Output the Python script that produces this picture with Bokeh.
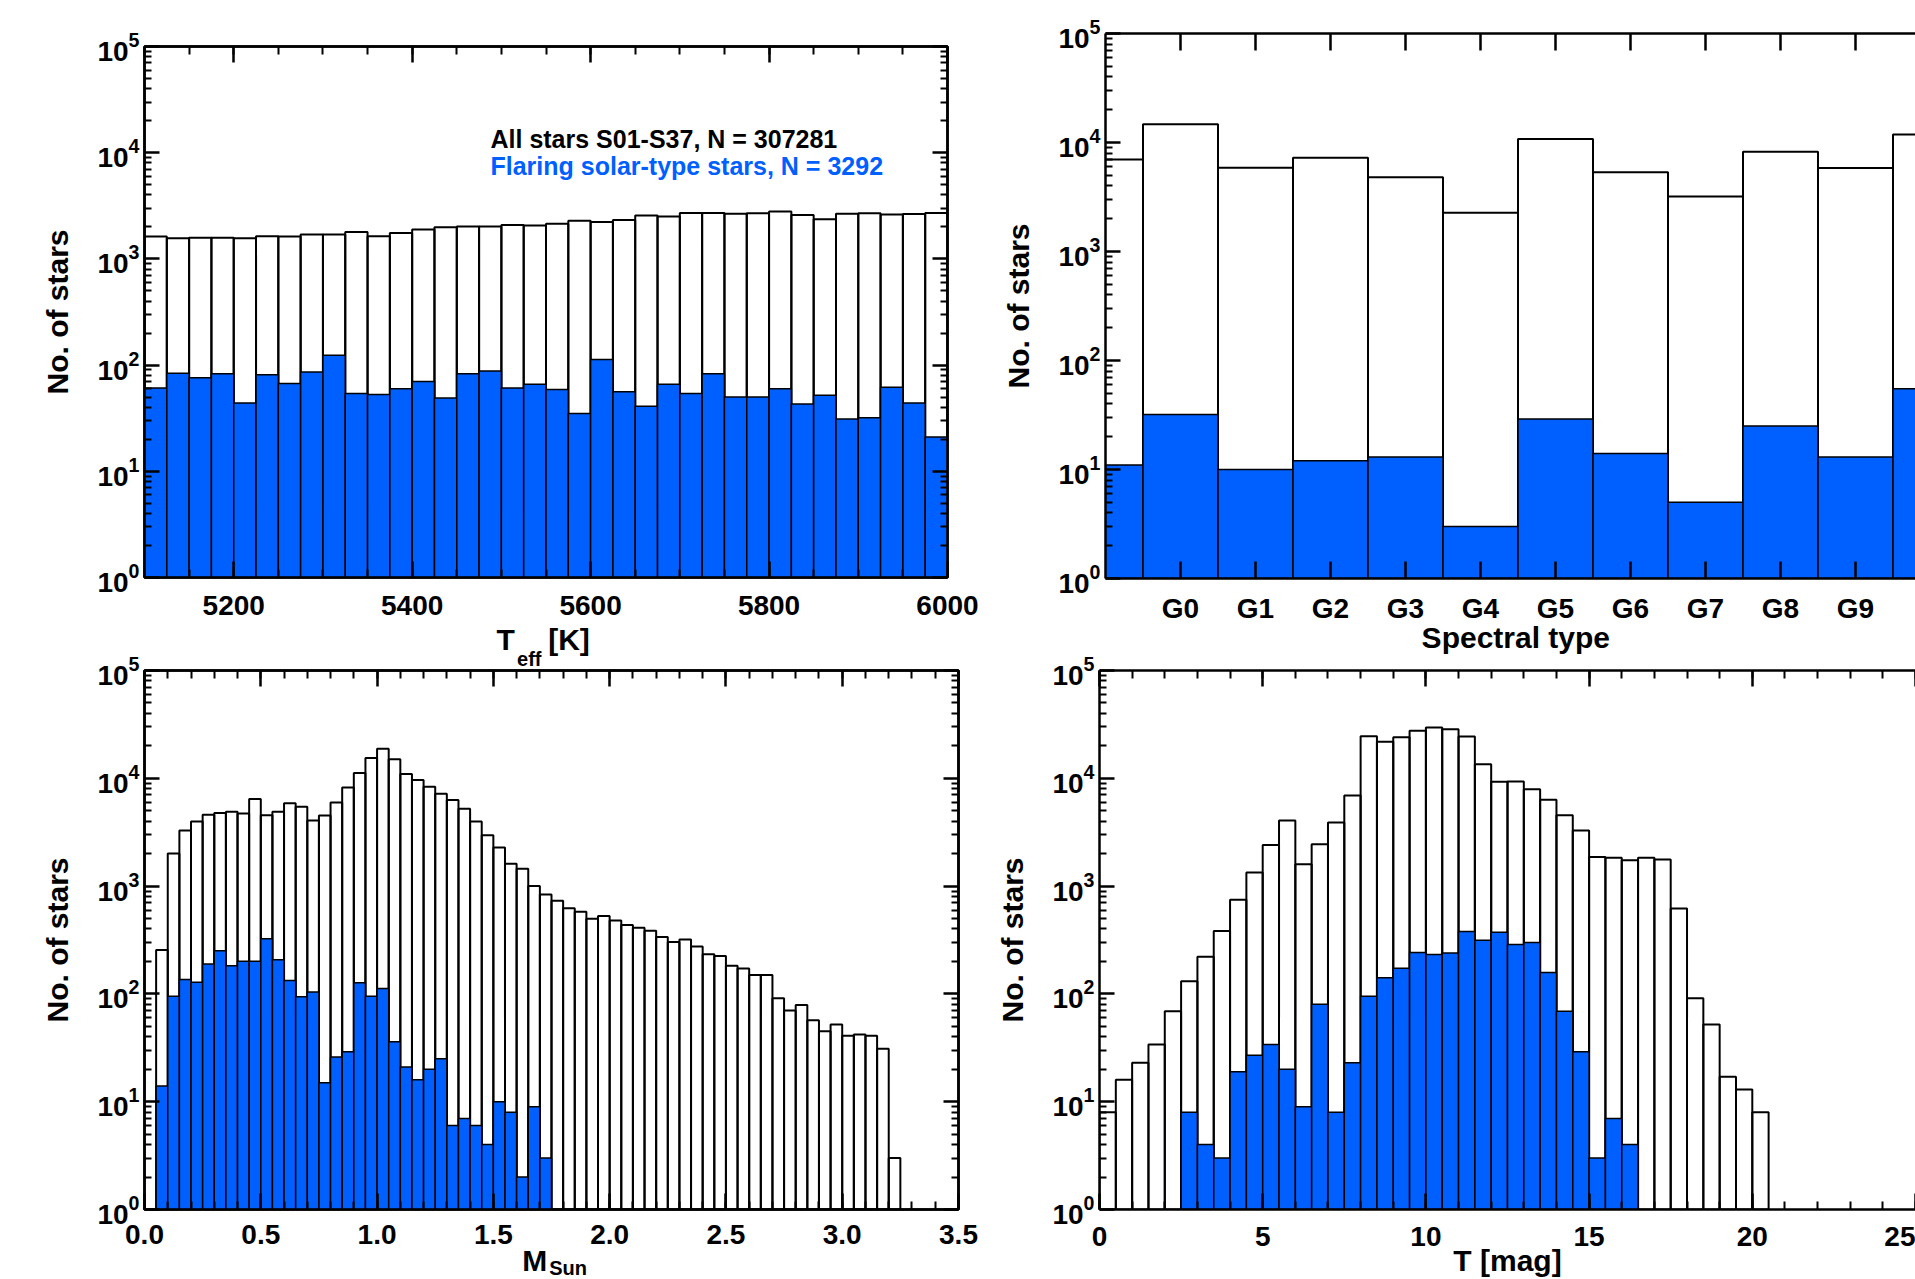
from bokeh.plotting import figure
from bokeh.layouts import row, column
from bokeh.models import (FixedTicker, LinearAxis, Label, Range1d,
                          PrintfTickFormatter, CustomJSTickFormatter)
from bokeh.embed import file_html
from bokeh.resources import INLINE

FONT = "Liberation Sans"
BLUE = "#0060FF"
NB = "\u00a0"

# ---------------- data ----------------
# Panel (a): effective temperature, 25 K bins
teff_lo = list(range(5100, 6000, 25))
teff_width = 25
teff_all = [1626, 1566, 1578, 1578, 1566, 1638, 1626, 1700, 1700, 1791, 1638, 1750,
            1888, 1990, 2020, 2020, 2080, 2065, 2144, 2293, 2225, 2328, 2566, 2510,
            2704, 2704, 2666, 2685, 2788, 2585, 2363, 2666, 2685, 2625, 2644, 2704]
teff_flare = [61, 84, 76, 83, 44, 81, 67, 86, 124, 54, 53, 60,
              70, 49, 83, 88, 61, 66, 59, 35, 113, 56, 41, 66,
              54, 83, 50, 50, 60, 43, 52, 31, 32, 62, 44, 21]

# Panel (b): spectral type (position -1 is the bin before G0, 10 the one after G9)
spt_pos = list(range(-1, 11))
spt_tick_pos = list(range(0, 10))
spt_all = [6982, 14690, 5878, 7250, 4797, 2265, 10790, 5331, 3199, 8238, 5834, 11810]
spt_flare = [11, 32, 10, 12, 13, 3, 29, 14, 5, 25, 13, 55]

# Panel (c): mass, 0.05 M_sun bins from 0.05 to 3.25
mass_lo = [round(0.05 * k, 2) for k in range(1, 65)]
mass_width = 0.05
mass_all = [255, 2009, 3272, 3975, 4584, 4760, 4907, 4725, 6424, 4549,
            4907, 5872, 5447, 4066, 4517, 5960, 8230, 11190, 15450, 18780,
            14990, 10940, 9634, 8355, 7190, 6280, 5207, 3975, 2966, 2282,
            1616, 1445, 1000, 835, 730, 623, 578, 498, 529, 480,
            435, 410, 386, 337, 303, 320, 275, 233, 225, 182,
            172, 150, 150, 91, 70, 79, 57, 45, 52, 41,
            42, 41, 31, 3]
mass_flare = [14, 95, 136, 128, 189, 252, 182, 201, 201, 325,
              207, 133, 94, 104, 15, 26, 29, 127, 95, 112,
              36, 21, 16, 20, 25, 6, 7, 6, 4, 10,
              8, 2, 9, 3] + [0] * 30

# Panel (d): TESS magnitude, 0.5 mag bins from 0 to 20.5
tmag_lo = [0.5 * k for k in range(41)]
tmag_width = 0.5
tmag_all = [8, 16, 23, 34, 69, 131, 221, 383, 746, 1340,
            2405, 4064, 1592, 2442, 3888, 6925, 24590, 21830, 24050, 27540,
            29660, 28580, 24420, 13490, 9277, 9350, 7925, 6327, 4548, 3272,
            1863, 1836, 1741, 1836, 1769, 619, 91, 52, 17, 13, 8]
tmag_flare = [0, 0, 0, 0, 0, 8, 4, 3, 19, 27,
              34, 20, 9, 80, 8, 23, 95, 141, 173, 242,
              232, 240, 380, 315, 374, 288, 299, 158, 69, 29,
              3, 7, 4, 0, 0, 0, 0, 0, 0, 0, 0]

legend_all = "All stars S01-S37, N = 307281"
legend_flare = "Flaring solar-type stars, N = 3292"

# ---------------- helpers ----------------
decades = [1, 10, 100, 1000, 10000, 100000]
log_minor = [m * d for d in decades[:-1] for m in range(2, 10)]


def yticker():
    return FixedTicker(ticks=decades, minor_ticks=log_minor)


def make_fig(xr, fw, fh, bl, br, bt, bb, outline=True):
    p = figure(x_range=xr, y_range=Range1d(1, 1e5), y_axis_type="log",
               frame_width=fw, frame_height=fh,
               min_border_left=bl, min_border_right=br,
               min_border_top=bt, min_border_bottom=bb,
               output_backend="svg", toolbar_location=None,
               background_fill_color="white", border_fill_color="white")
    p.xgrid.visible = False
    p.ygrid.visible = False
    if outline:
        p.outline_line_color = "black"
        p.outline_line_width = 2.5
        p.outline_line_alpha = 1.0
    else:
        p.outline_line_color = None
    return p


def style_axis(ax, ticker, major_len, minor_len, labels=True, standoff=12):
    ax.ticker = ticker
    ax.axis_line_color = "black"
    ax.axis_line_width = 2.5
    ax.major_tick_in = major_len
    ax.major_tick_out = 0
    ax.major_tick_line_color = "black"
    ax.major_tick_line_width = 2.5
    ax.minor_tick_in = minor_len
    ax.minor_tick_out = 0
    ax.minor_tick_line_color = "black"
    ax.minor_tick_line_width = 2
    ax.major_label_text_font = FONT
    ax.major_label_text_font_style = "bold"
    ax.major_label_text_color = "black"
    ax.major_label_standoff = standoff
    if labels:
        ax.major_label_text_font_size = "28px"
    else:
        ax.formatter = CustomJSTickFormatter(code="return ' ';")
        ax.major_label_text_font_size = "2px"


def set_axis_label(ax, text, size, standoff):
    ax.axis_label = text
    ax.axis_label_text_font = FONT
    ax.axis_label_text_font_style = "bold"
    ax.axis_label_text_font_size = size
    ax.axis_label_text_color = "black"
    ax.axis_label_standoff = standoff


def label_axis(p, place, text, size, standoff):
    """An axis without line or ticks that only carries a text label."""
    ax = LinearAxis(ticker=FixedTicker(ticks=[]), axis_line_color=None,
                    major_tick_in=0, major_tick_out=0, minor_tick_in=0, minor_tick_out=0,
                    major_label_standoff=0)
    set_axis_label(ax, text, size, standoff)
    p.add_layout(ax, place)
    return ax


def setup_axes(p, xticks, xminor, xmaj, xmin, right_axis=True, xstandoff=12):
    bottom = p.below[0]
    left = p.left[0]
    style_axis(bottom, FixedTicker(ticks=xticks, minor_ticks=xminor), xmaj, xmin, True, xstandoff)
    style_axis(left, yticker(), 15, 7, True, 5)
    set_axis_label(left, "No. of stars", "30px", 20)
    top = LinearAxis()
    style_axis(top, FixedTicker(ticks=xticks, minor_ticks=xminor), xmaj, xmin, False, 0)
    p.add_layout(top, "above")
    if right_axis:
        right = LinearAxis()
        style_axis(right, yticker(), 15, 7, False, 0)
        p.add_layout(right, "right")
    return bottom, top


def draw_bars(p, lo, width, all_vals, flare_vals):
    p.quad(left=lo, right=[v + width for v in lo], bottom=1, top=all_vals,
           fill_color=None, line_color="black", line_width=2)
    idx = [i for i, v in enumerate(flare_vals) if v > 0]
    p.quad(left=[lo[i] for i in idx], right=[lo[i] + width for i in idx],
           bottom=1, top=[flare_vals[i] for i in idx],
           fill_color=BLUE, line_color="black", line_width=1.5)


def add_text(p, sx, sy, text, size, color="black", align="left"):
    p.add_layout(Label(x=sx, y=sy, x_units="screen", y_units="screen", text=text,
                       text_font=FONT, text_font_style="bold", text_font_size=size,
                       text_color=color, text_align=align, text_baseline="alphabetic"))


# ---------------- panel (a) ----------------
p1 = make_fig(Range1d(5100, 6000), 803, 531, 144, 40, 46, 46, outline=True)
setup_axes(p1, [5200, 5400, 5600, 5800, 6000], list(range(5100, 6001, 50)), 16, 8, xstandoff=18)
draw_bars(p1, teff_lo, teff_width, teff_all, teff_flare)
add_text(p1, 346, 439, legend_all, "25px", "black")
add_text(p1, 346, 412, legend_flare, "25px", BLUE)

# ---------------- panel (b) ----------------
p2 = make_fig(Range1d(-1, 9.8), 810, 545, 118, 0, 46, 46, outline=False)
p2.styles = {"margin-top": "-13px"}
b2, _ = setup_axes(p2, spt_tick_pos, [], 17, 0, right_axis=False, xstandoff=14)
b2.formatter = CustomJSTickFormatter(code="return 'G' + tick.toFixed(0);")
draw_bars(p2, [v - 0.5 for v in spt_pos], 1.0, spt_all, spt_flare)

# ---------------- panel (c) ----------------
p3 = make_fig(Range1d(0, 3.5), 814, 539, 144, 30, 47, 69, outline=True)
b3, t3 = setup_axes(p3, [0.5 * k for k in range(8)], [0.1 * k for k in range(36)], 16, 8,
                    xstandoff=15)
b3.formatter = PrintfTickFormatter(format="%.1f")
draw_bars(p3, mass_lo, mass_width, mass_all, mass_flare)
# x label of panel (a) sits in the space above panel (c): "T" / "eff" (subscript) / "[K]"
set_axis_label(t3, "eff" + NB * 8, "20px", -5)
label_axis(p3, "above", "T" + NB * 4 + "[K]" + NB * 2, "30px", -10)
# x label of panel (c): "M" with subscript "Sun"
set_axis_label(b3, "M" + NB * 4, "30px", -3)
label_axis(p3, "below", NB * 6 + "Sun", "20px", -23)

# ---------------- panel (d) ----------------
p4 = make_fig(Range1d(0, 25), 816, 539, 111, 0, 47, 69, outline=False)
b4, t4 = setup_axes(p4, [0, 5, 10, 15, 20, 25], list(range(0, 26)), 16, 8,
                    right_axis=False, xstandoff=17)
draw_bars(p4, tmag_lo, tmag_width, tmag_all, tmag_flare)
# x label of panel (b) sits in the space above panel (d)
set_axis_label(t4, NB * 2 + "Spectral type", "30px", 11)
# x label of panel (d)
set_axis_label(b4, "T [mag]", "30px", -5)

row1 = row(p1, p2, spacing=0)
row2 = row(p3, p4, spacing=0)
row2.styles = {"margin-top": "-8px"}
layout = column(row1, row2, spacing=0)

open("out.html", "w").write(file_html(layout, INLINE))
